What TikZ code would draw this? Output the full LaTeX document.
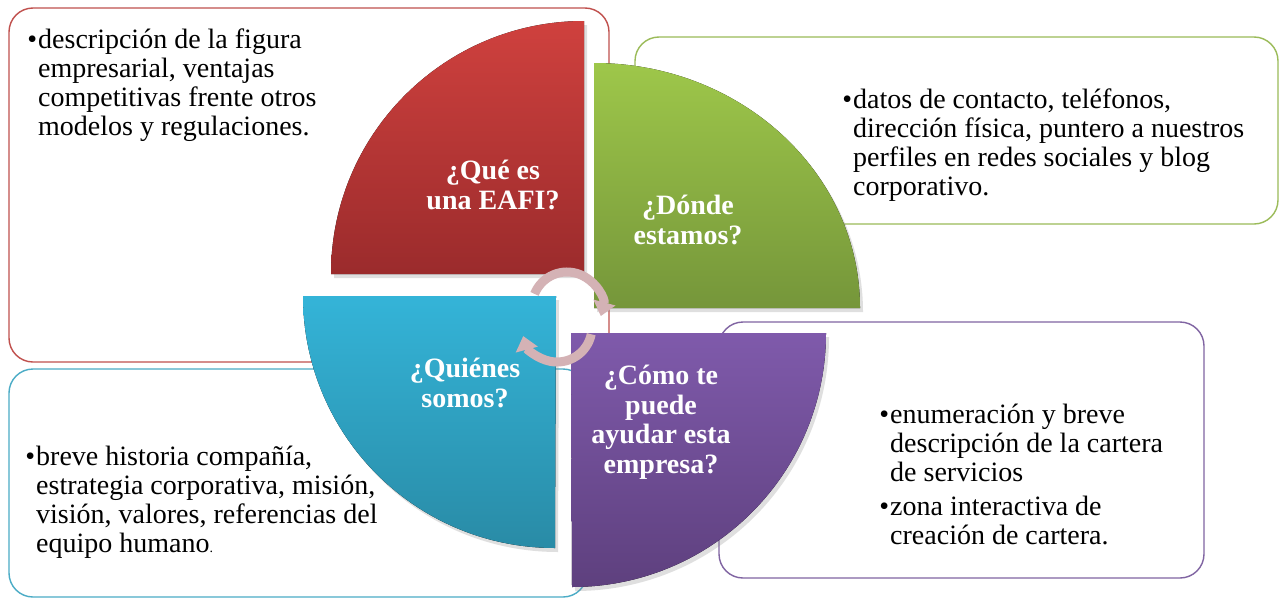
\documentclass[tikz,border=0pt]{standalone}
\usepackage{fontspec}
\setmainfont{Liberation Serif}
\usetikzlibrary{arrows.meta,shadows}

\definecolor{rojo}{RGB}{192,80,77}
\definecolor{verde}{RGB}{155,187,89}
\definecolor{azul}{RGB}{75,172,198}
\definecolor{morado}{RGB}{128,100,162}
\definecolor{flecha}{RGB}{212,178,181}

\newcommand{\vineta}{\llap{\textbullet\kern1pt}}

\begin{document}
\begin{tikzpicture}[x=1pt, y=1pt]
        \tikzstyle{caja}=[line width=1.4pt, rounded corners=24pt]
        \tikzstyle{sector}=[drop shadow={opacity=.25, shadow xshift=3pt, shadow yshift=-4pt}]
        \tikzstyle{titulo}=[font=\fontsize{28}{29.5}\selectfont\bfseries, text=white, align=center, inner sep=0pt, anchor=north]
        \tikzstyle{cuerpo}=[font=\fontsize{28}{29}\selectfont, align=left, inner sep=0pt, anchor=north west]
        \tikzstyle{ciclo}=[line width=9pt, draw=flecha, -{Triangle[width=22pt, length=14pt]}]

            \clip (0,0) rectangle (1282,-597);
            \fill[white] (0,0) rectangle (1282,-597);

            % Cajas
            \draw[caja, draw=rojo] (9,-8) rectangle (609,-362);
            \draw[caja, draw=verde] (635,-37) rectangle (1278,-224);
            \draw[caja, draw=azul] (9,-369) rectangle (587,-597);
            \draw[caja, draw=morado] (719,-322) rectangle (1204,-578);

            % Sectores
            \fill[sector, top color={rgb,255:red,207;green,65;blue,62}, bottom color={rgb,255:red,155;green,43;blue,44}]
                (584,-274) -- (331,-274) arc[start angle=180, end angle=90, radius=253] -- cycle;
            \fill[sector, top color={rgb,255:red,158;green,199;blue,74}, bottom color={rgb,255:red,117;green,150;blue,58}]
                (594,-308) -- (594,-63) arc[start angle=90, end angle=0, x radius=266, y radius=245] -- cycle;
            \fill[sector, top color={rgb,255:red,52;green,180;blue,216}, bottom color={rgb,255:red,41;green,139;blue,166}]
                (556,-296) -- (303,-296) arc[start angle=180, end angle=270, radius=252] -- cycle;
            \fill[sector, top color={rgb,255:red,127;green,90;blue,171}, bottom color={rgb,255:red,94;green,64;blue,126}]
                (571,-333) -- (826,-333) arc[start angle=0, end angle=-90, radius=254] -- cycle;

            % Flechas del ciclo
            \draw[ciclo] (567,-307) ++(158:35) arc[start angle=158, end angle=-15, radius=35];
            \draw[ciclo] (557,-327) ++(-12:35) arc[start angle=-12, end angle=-165, radius=35];

            % Titulos
            \node[titulo] (que) at (493,-160) {¿Qué es\\una EAFI?};
            \node[titulo] (donde) at (688,-195) {¿Dónde\\estamos?};
            \node[titulo] (quienes) at (465,-358) {¿Quiénes\\somos?};
            \node[titulo] (como) at (661,-365) {¿Cómo te\\puede\\ayudar esta\\empresa?};

            % Textos
            \node[cuerpo] (txtque) at (38,-29) {\vineta descripción de la figura\\empresarial, ventajas\\competitivas frente otros\\modelos y regulaciones.};
            \node[cuerpo] (txtdonde) at (853,-89) {\vineta datos de contacto, teléfonos,\\dirección física, puntero a nuestros\\perfiles en redes sociales y blog\\corporativo.};
            \node[cuerpo] (txtquienes) at (36,-446) {\vineta breve historia compañía,\\estrategia corporativa, misión,\\visión, valores, referencias del\\equipo humano{\fontsize{14}{14}\selectfont.}};
            \node[cuerpo] (txtcomo) at (890,-404) {\vineta enumeración y breve\\descripción de la cartera\\de servicios\\[5pt]\vineta zona interactiva de\\creación de cartera.};
\end{tikzpicture}
\end{document}
